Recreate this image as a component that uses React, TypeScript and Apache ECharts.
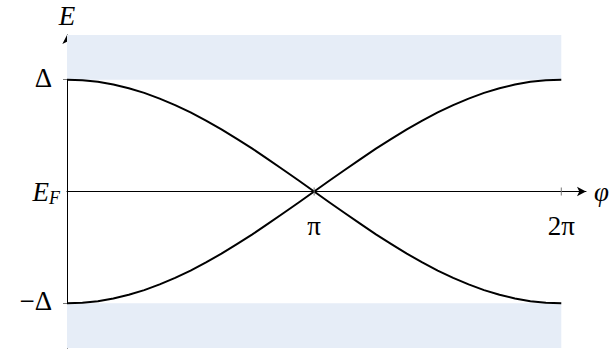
import React, { useEffect, useRef } from "react";
import * as echarts from "echarts";

// phase in units of π
const phi = [
  0, 0.0625, 0.125, 0.1875, 0.25, 0.3125, 0.375, 0.4375, 0.5, 0.5625, 0.625, 0.6875, 0.75, 0.8125, 0.875, 0.9375,
  1, 1.0625, 1.125, 1.1875, 1.25, 1.3125, 1.375, 1.4375, 1.5, 1.5625, 1.625, 1.6875, 1.75, 1.8125, 1.875, 1.9375, 2,
];
// upper branch (in units of Δ)
const upper = [
  1, 0.995, 0.981, 0.957, 0.924, 0.882, 0.831, 0.773, 0.707, 0.634, 0.556, 0.471, 0.383, 0.29, 0.195, 0.098,
  0, -0.098, -0.195, -0.29, -0.383, -0.471, -0.556, -0.634, -0.707, -0.773, -0.831, -0.882, -0.924, -0.957, -0.981, -0.995, -1,
];
// lower branch
const lower = [
  -1, -0.995, -0.981, -0.957, -0.924, -0.882, -0.831, -0.773, -0.707, -0.634, -0.556, -0.471, -0.383, -0.29, -0.195, -0.098,
  0, 0.098, 0.195, 0.29, 0.383, 0.471, 0.556, 0.634, 0.707, 0.773, 0.831, 0.882, 0.924, 0.957, 0.981, 0.995, 1,
];
const xTicks = [1, 2];
const xTickLabels = ["π", "2π"];
const yTicks = [-1, 0, 1];
const bands = [[1, 1.4], [-1.4, -1]];

const FONT = "Liberation Serif";
const FS = 27;

export default function App() {
  const ref = useRef<HTMLDivElement>(null);
  useEffect(() => {
    const chart = echarts.init(ref.current!, null, { renderer: "svg" });
    chart.setOption({
      animation: false,
      grid: { left: 67, right: 25, top: 35, bottom: 4, containLabel: false, outerBoundsMode: "none" },
      xAxis: {
        type: "value",
        min: 0,
        max: 2.1,
        splitLine: { show: false },
        axisLine: {
          onZero: true,
          lineStyle: { color: "#000", width: 1 },
          symbol: ["none", "arrow"],
          symbolSize: [7, 9],
        },
        axisTick: { show: false },
        axisLabel: { show: false },
        name: "φ",
        nameLocation: "end",
        nameGap: 8,
        nameTextStyle: { fontFamily: FONT, fontSize: FS, fontStyle: "italic", color: "#000" },
      },
      yAxis: {
        type: "value",
        min: -1.4,
        max: 1.4,
        splitLine: { show: false },
        axisLine: {
          onZero: false,
          lineStyle: { color: "#000", width: 1 },
          symbol: ["none", "arrow"],
          symbolSize: [7, 9],
        },
        axisTick: { show: true, customValues: [-1, 1], length: 4, lineStyle: { color: "#777" } },
        axisLabel: {
          customValues: yTicks,
          margin: 7,
          formatter: (v: number) => (v === 1 ? "{u|Δ}" : v === -1 ? "{u|−Δ}" : "{i|E}{s|F}"),
          rich: {
            u: { fontFamily: FONT, fontSize: FS, color: "#000", padding: [0, 8, 4, 0] },
            i: { fontFamily: FONT, fontSize: FS, fontStyle: "italic", color: "#000" },
            s: { fontFamily: FONT, fontSize: 18, fontStyle: "italic", color: "#000", padding: [12, 0, 0, 0] },
          },
        },
        name: "E",
        nameLocation: "end",
        nameGap: 6,
        nameTextStyle: { fontFamily: FONT, fontSize: FS, fontStyle: "italic", color: "#000", align: "center" },
      },
      series: [
        {
          type: "line",
          data: phi.map((p, i) => [p, upper[i]]),
          smooth: false,
          showSymbol: false,
          lineStyle: { color: "#000", width: 2, join: "round" },
          z: 5,
          markArea: {
            silent: true,
            itemStyle: { color: "#E6EDF7" },
            data: bands.map((b) => [
              { xAxis: 0, yAxis: b[0] },
              { xAxis: 2, yAxis: b[1] },
            ]),
          },
        },
        {
          type: "line",
          data: phi.map((p, i) => [p, lower[i]]),
          smooth: false,
          showSymbol: false,
          lineStyle: { color: "#000", width: 2, join: "round" },
          z: 5,
        },
      ],
    });
    const graphics: any[] = [];
    xTicks.forEach((v, i) => {
      const [px, py] = chart.convertToPixel({ gridIndex: 0 }, [v, 0]) as number[];
      graphics.push({
        type: "line",
        shape: { x1: px, y1: py - 4, x2: px, y2: py + 4 },
        style: { stroke: "#777", lineWidth: 1 },
        z: 10,
      });
      graphics.push({
        type: "text",
        x: px,
        y: py + 34,
        style: {
          text: xTickLabels[i],
          fontFamily: FONT,
          fontSize: FS,
          fill: "#000",
          align: "center",
          verticalAlign: "middle",
        },
        z: 10,
      });
    });
    chart.setOption({ graphic: graphics });
    return () => chart.dispose();
  }, []);
  return <div ref={ref} style={{ width: 611, height: 352, position: "absolute", left: 0, top: 0 }} />;
}
